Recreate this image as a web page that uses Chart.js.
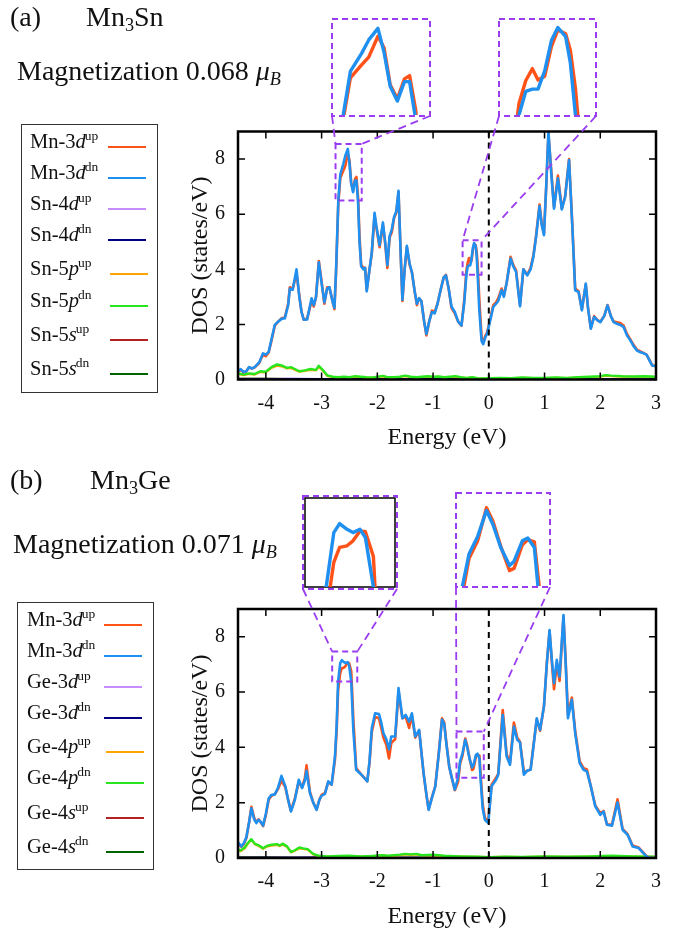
<!DOCTYPE html>
<html><head><meta charset="utf-8">
<script src="https://cdn.jsdelivr.net/npm/chart.js@4.4.1/dist/chart.umd.min.js"></script>
<style>
html,body{margin:0;padding:0;background:#fff;}
body{width:689px;height:931px;position:relative;overflow:hidden;font-family:"Liberation Serif","DejaVu Serif",serif;color:#111;}
canvas{position:absolute;}
.t{position:absolute;white-space:nowrap;line-height:1;}
.t sub{font-size:0.65em;vertical-align:0;position:relative;top:0.3em;}
.legend{position:absolute;border:1.4px solid #333;box-sizing:border-box;}
.row{position:absolute;font-size:20.5px;line-height:1;white-space:nowrap;}
.row sup{font-size:13.5px;vertical-align:0;position:relative;top:-8px;margin-left:-1px;}
.ln{position:absolute;height:2px;}
</style></head><body>
<canvas id="cA" width="689" height="460" style="left:0;top:0"></canvas>
<canvas id="cB" width="689" height="460" style="left:0;top:478px"></canvas>
<div class="t" style="left:10px;top:2.5px;font-size:28px">(a)</div>
<div class="t" style="left:86px;top:2.5px;font-size:28px">Mn<sub>3</sub>Sn</div>
<div class="t" style="left:17px;top:56.5px;font-size:28px">Magnetization 0.068 <i>μ</i><sub><i>B</i></sub></div>
<div class="t" style="left:10px;top:465.5px;font-size:28px">(b)</div>
<div class="t" style="left:90px;top:465.5px;font-size:28px">Mn<sub>3</sub>Ge</div>
<div class="t" style="left:13px;top:529.5px;font-size:28px">Magnetization 0.071 <i>μ</i><sub><i>B</i></sub></div>
<script>
// ================= DATA =================
const xTickLabels = [-4,-3,-2,-1,0,1,2,3];
const yTickLabels = [0,2,4,6,8];

// ---- panel (a) Mn3Sn : Mn-3d ----
const energyA = [-4.50,-4.45,-4.40,-4.35,-4.30,-4.25,-4.20,-4.12,-4.05,-4.00,-3.95,-3.90,-3.84,-3.78,-3.72,-3.66,-3.60,-3.57,-3.52,-3.45,-3.40,-3.36,-3.32,-3.26,-3.18,-3.14,-3.10,-3.05,-3.00,-2.95,-2.90,-2.86,-2.80,-2.77,-2.74,-2.70,-2.665,-2.61,-2.575,-2.53,-2.50,-2.47,-2.435,-2.40,-2.375,-2.345,-2.32,-2.29,-2.25,-2.22,-2.19,-2.14,-2.10,-2.05,-2.02,-1.96,-1.90,-1.86,-1.82,-1.78,-1.74,-1.70,-1.66,-1.62,-1.58,-1.55,-1.51,-1.47,-1.42,-1.38,-1.33,-1.29,-1.25,-1.21,-1.16,-1.12,-1.07,-1.02,-0.97,-0.92,-0.87,-0.81,-0.77,-0.72,-0.67,-0.61,-0.55,-0.49,-0.44,-0.402,-0.378,-0.354,-0.334,-0.31,-0.286,-0.263,-0.235,-0.218,-0.20,-0.17,-0.13,-0.10,-0.06,-0.03,0.02,0.08,0.13,0.17,0.23,0.27,0.32,0.39,0.44,0.49,0.56,0.62,0.69,0.75,0.80,0.85,0.91,0.95,0.99,1.03,1.07,1.12,1.17,1.24,1.31,1.37,1.44,1.50,1.55,1.61,1.67,1.74,1.78,1.83,1.89,1.95,2.00,2.07,2.13,2.19,2.24,2.30,2.36,2.42,2.48,2.54,2.60,2.66,2.72,2.78,2.83,2.88,2.93,3.00];
const mn3dDnA = [0.30,0.38,0.27,0.30,0.45,0.40,0.45,0.62,0.95,0.90,1.00,1.45,1.98,2.10,2.20,2.22,2.70,3.30,3.25,4.00,3.00,2.45,2.17,2.18,2.95,2.70,3.00,4.25,3.50,2.80,3.30,3.35,2.80,2.60,4.00,6.50,7.44,7.83,8.12,8.37,7.85,7.12,6.80,7.22,7.22,6.40,5.00,4.10,4.00,4.05,3.20,4.00,4.60,6.05,5.60,4.87,5.70,5.00,4.15,5.20,5.45,5.90,6.10,6.85,4.50,2.90,4.00,4.85,4.20,3.90,3.20,2.75,2.95,2.85,2.10,1.65,2.10,2.45,2.40,2.75,3.20,3.70,3.78,3.30,2.65,2.45,2.10,1.96,2.80,3.80,4.11,4.14,4.14,4.38,4.78,4.95,4.83,4.48,3.80,2.50,1.40,1.28,1.55,1.66,2.10,2.63,2.75,2.85,3.24,3.00,3.50,4.39,4.10,3.90,2.65,4.00,3.78,4.00,4.45,5.20,6.29,5.60,5.24,7.00,9.00,7.50,6.20,7.30,6.17,6.63,7.96,5.50,3.24,3.18,2.51,3.48,2.60,1.84,2.27,2.15,2.08,2.30,2.69,2.30,2.08,2.02,1.98,1.90,1.60,1.42,1.20,1.05,0.99,0.95,0.90,0.70,0.51,0.48];
const mn3dUpA = [0.28,0.35,0.26,0.30,0.44,0.40,0.44,0.60,0.92,0.85,0.98,1.40,1.95,2.10,2.22,2.25,2.75,3.35,3.28,3.85,3.05,2.45,2.17,2.20,2.85,2.65,3.00,4.30,3.55,2.75,3.35,3.35,2.80,2.55,3.90,6.40,7.30,7.58,7.75,8.20,7.95,7.15,6.85,7.28,7.35,6.60,5.20,4.15,4.05,4.05,3.25,4.00,4.55,5.95,5.55,4.80,5.60,4.95,4.05,5.15,5.35,5.85,6.05,6.80,4.50,2.85,4.00,4.80,4.15,3.90,3.20,2.70,2.95,2.85,2.10,1.60,2.10,2.50,2.45,2.75,3.20,3.70,3.80,3.30,2.60,2.40,2.10,1.95,2.90,3.95,4.25,4.41,4.26,4.31,4.70,4.92,4.87,4.65,4.15,2.90,1.55,1.35,1.60,1.70,2.15,2.70,2.80,2.95,3.30,3.05,3.50,4.45,4.15,3.95,2.70,4.00,3.80,4.05,4.50,5.25,6.35,5.65,5.30,7.00,8.90,7.60,6.25,7.40,6.20,6.65,8.00,5.55,3.30,3.20,2.55,3.45,2.60,1.88,2.30,2.15,2.10,2.30,2.70,2.30,2.10,2.08,2.05,1.95,1.65,1.45,1.25,1.08,1.02,0.96,0.90,0.72,0.52,0.48];
// Sn-5p
const energyPA = [-4.5,-4.4,-4.3,-4.2,-4.1,-4.0,-3.9,-3.8,-3.7,-3.62,-3.55,-3.48,-3.4,-3.3,-3.2,-3.1,-3.05,-2.98,-2.9,-2.8,-2.7,-2.6,-2.5,-2.4,-2.3,-2.2,-2.1,-2.0,-1.9,-1.8,-1.7,-1.6,-1.5,-1.4,-1.3,-1.2,-1.1,-1.0,-0.9,-0.8,-0.7,-0.6,-0.5,-0.4,-0.3,-0.2,-0.1,0.0,0.2,0.4,0.6,0.8,1.0,1.2,1.4,1.6,1.8,2.0,2.1,2.2,2.4,2.6,2.8,3.0];
const sn5pDnA = [0.22,0.18,0.22,0.20,0.30,0.28,0.45,0.55,0.50,0.42,0.45,0.38,0.30,0.33,0.38,0.35,0.50,0.35,0.15,0.10,0.08,0.10,0.08,0.12,0.10,0.08,0.07,0.10,0.13,0.08,0.08,0.10,0.14,0.10,0.08,0.10,0.12,0.10,0.11,0.08,0.10,0.12,0.08,0.06,0.08,0.05,0.04,0.05,0.06,0.05,0.07,0.06,0.06,0.07,0.06,0.08,0.10,0.12,0.16,0.14,0.12,0.11,0.12,0.10];
const sn5pUpA = [0.20,0.16,0.20,0.18,0.27,0.26,0.42,0.50,0.47,0.40,0.42,0.35,0.28,0.31,0.35,0.33,0.46,0.33,0.13,0.09,0.07,0.09,0.07,0.10,0.09,0.07,0.06,0.09,0.11,0.07,0.07,0.09,0.12,0.09,0.07,0.09,0.10,0.09,0.10,0.07,0.09,0.10,0.07,0.05,0.07,0.04,0.03,0.04,0.05,0.04,0.06,0.05,0.05,0.06,0.05,0.07,0.09,0.10,0.14,0.12,0.10,0.10,0.10,0.09];
// minor channels
const energyMinor = [-4.5,-4.0,-3.5,-3.0,-2.5,-2.0,-1.5,-1.0,-0.5,0.0,0.5,1.0,1.5,2.0,2.5,3.0];
const sn4dUpA = [0.01,0.01,0.04,0.02,0.01,0.01,0.01,0.01,0.01,0.01,0.01,0.01,0.01,0.01,0.01,0.01];
const sn4dDnA = [0.01,0.01,0.02,0.02,0.03,0.01,0.01,0.02,0.01,0.01,0.01,0.01,0.01,0.01,0.01,0.01];
const sn5sUpA = [0.03,0.03,0.02,0.02,0.01,0.01,0.01,0.01,0.01,0.01,0.01,0.01,0.01,0.01,0.01,0.01];
const sn5sDnA = [0.03,0.03,0.02,0.02,0.01,0.01,0.01,0.01,0.01,0.01,0.01,0.01,0.01,0.01,0.01,0.01];

// ---- panel (b) Mn3Ge : Mn-3d ----
const energyB = [-4.50,-4.44,-4.39,-4.35,-4.30,-4.26,-4.21,-4.17,-4.13,-4.09,-4.05,-4.00,-3.95,-3.90,-3.84,-3.78,-3.72,-3.65,-3.60,-3.55,-3.48,-3.41,-3.35,-3.30,-3.27,-3.21,-3.15,-3.09,-3.04,-3.00,-2.94,-2.88,-2.82,-2.76,-2.73,-2.704,-2.666,-2.637,-2.60,-2.57,-2.535,-2.508,-2.468,-2.43,-2.38,-2.28,-2.18,-2.14,-2.10,-2.04,-1.97,-1.93,-1.89,-1.84,-1.79,-1.75,-1.68,-1.62,-1.55,-1.49,-1.43,-1.38,-1.32,-1.25,-1.17,-1.12,-1.08,-1.02,-0.96,-0.89,-0.84,-0.80,-0.76,-0.71,-0.67,-0.61,-0.551,-0.516,-0.47,-0.423,-0.389,-0.347,-0.30,-0.276,-0.232,-0.203,-0.168,-0.149,-0.11,-0.07,-0.01,0.05,0.13,0.17,0.25,0.32,0.38,0.45,0.51,0.56,0.63,0.69,0.75,0.80,0.86,0.92,0.99,1.04,1.09,1.13,1.17,1.22,1.27,1.34,1.38,1.42,1.49,1.55,1.63,1.70,1.76,1.83,1.91,2.00,2.06,2.12,2.21,2.31,2.40,2.49,2.58,2.69,2.76,2.84,2.90,3.00];
const mn3dDnB = [0.57,0.42,0.55,0.75,1.30,1.80,1.40,1.26,1.38,1.30,1.17,1.60,2.15,2.28,2.30,2.55,2.97,2.59,2.10,1.68,2.10,2.83,2.53,2.80,3.15,2.35,2.00,1.74,2.10,2.25,2.32,2.77,2.65,3.67,4.80,6.38,7.04,7.15,7.08,7.04,7.08,6.98,6.38,4.60,3.19,3.00,2.77,3.50,4.69,5.23,5.20,4.90,4.51,4.30,3.93,4.39,4.39,6.14,5.05,5.17,4.93,5.23,4.39,4.63,3.07,2.30,1.74,2.17,2.59,3.91,5.00,4.85,4.10,3.30,2.95,2.47,2.90,3.48,3.80,4.27,4.02,3.60,3.27,3.35,3.72,3.77,3.60,2.90,1.80,1.38,1.26,2.59,2.83,3.01,5.17,3.67,3.37,4.75,4.27,4.18,3.01,3.16,3.19,4.00,5.05,4.63,5.48,7.00,8.24,7.20,6.32,7.16,6.56,8.78,7.00,5.05,5.72,4.51,3.43,3.19,3.13,2.59,1.87,1.56,1.68,1.20,1.17,2.01,1.02,0.84,0.42,0.36,0.20,0.04,0.00,0.00];
const mn3dUpB = [0.52,0.40,0.52,0.72,1.30,1.85,1.45,1.30,1.40,1.28,1.15,1.55,2.10,2.25,2.30,2.50,2.80,2.55,2.10,1.70,2.15,2.75,2.55,2.90,3.35,2.40,2.00,1.76,2.10,2.28,2.35,2.75,2.65,3.55,4.60,6.05,6.68,6.86,6.88,6.94,7.06,7.05,6.75,5.00,3.25,3.00,2.78,3.45,4.55,5.10,5.05,4.70,4.35,4.10,3.60,4.15,4.30,6.00,5.05,5.10,4.70,5.15,4.35,4.60,3.05,2.30,1.76,2.20,2.60,3.95,5.05,4.90,4.15,3.30,2.95,2.45,2.75,3.40,3.72,4.32,4.08,3.62,3.18,3.22,3.65,3.74,3.70,3.10,1.95,1.45,1.35,2.65,2.90,3.05,5.35,3.75,3.45,4.90,4.35,4.20,3.10,3.15,3.20,4.05,5.00,4.60,5.50,7.00,8.20,7.10,6.10,7.00,6.40,8.70,7.10,5.20,5.80,4.60,3.50,3.25,3.20,2.60,1.90,1.62,1.70,1.22,1.20,2.12,1.05,0.86,0.45,0.38,0.22,0.05,0.00,0.00];
// Ge-4p
const energyPB = [-4.5,-4.45,-4.38,-4.32,-4.26,-4.2,-4.12,-4.05,-3.97,-3.9,-3.8,-3.75,-3.7,-3.62,-3.55,-3.48,-3.4,-3.33,-3.25,-3.15,-3.05,-2.9,-2.7,-2.5,-2.3,-2.1,-1.9,-1.8,-1.6,-1.5,-1.4,-1.3,-1.2,-1.0,-0.8,-0.5,-0.2,0.0,0.3,0.6,1.0,1.4,1.8,2.2,2.6,3.0];
const ge4pDnB = [0.30,0.28,0.38,0.55,0.68,0.52,0.45,0.35,0.45,0.48,0.50,0.45,0.52,0.42,0.22,0.28,0.38,0.35,0.32,0.15,0.08,0.06,0.07,0.08,0.06,0.07,0.10,0.08,0.12,0.15,0.13,0.15,0.10,0.12,0.08,0.06,0.05,0.03,0.05,0.04,0.06,0.05,0.06,0.08,0.06,0.05];
const ge4pUpB = [0.27,0.25,0.35,0.52,0.66,0.50,0.42,0.33,0.42,0.45,0.47,0.43,0.49,0.40,0.20,0.26,0.35,0.33,0.30,0.13,0.07,0.05,0.06,0.07,0.05,0.06,0.09,0.07,0.10,0.13,0.11,0.13,0.09,0.10,0.07,0.05,0.04,0.03,0.04,0.03,0.05,0.04,0.05,0.07,0.05,0.04];
const ge3dUpB = [0.01,0.01,0.02,0.02,0.01,0.01,0.01,0.01,0.01,0.01,0.01,0.01,0.01,0.01,0.01,0.01];
const ge3dDnB = [0.01,0.01,0.01,0.02,0.02,0.01,0.01,0.01,0.01,0.01,0.01,0.01,0.01,0.02,0.03,0.02];
const ge4sUpB = [0.03,0.03,0.02,0.02,0.01,0.01,0.01,0.01,0.01,0.01,0.01,0.01,0.01,0.01,0.01,0.01];
const ge4sDnB = [0.03,0.03,0.02,0.02,0.01,0.01,0.01,0.01,0.01,0.01,0.01,0.01,0.01,0.01,0.01,0.01];

// zoom windows (energy range, DOS range)
const zoomA1 = {e:[-2.75,-2.28], d:[6.5,8.55]};
const zoomA2 = {e:[-0.47,-0.13], d:[3.8,5.05]};
const zoomB1 = {e:[-2.81,-2.36], d:[6.38,7.46]};
const zoomB2 = {e:[-0.58,-0.09], d:[2.9,4.57]};

// legend labels
const legendSpeciesA = ['Mn-3','Mn-3','Sn-4','Sn-4','Sn-5','Sn-5','Sn-5','Sn-5'];
const legendSpeciesB = ['Mn-3','Mn-3','Ge-3','Ge-3','Ge-4','Ge-4','Ge-4','Ge-4'];
const legendOrbital = ['d','d','d','d','p','p','s','s'];
const legendSpin = ['up','dn','up','dn','up','dn','up','dn'];

// ================= STYLE =================
const FONT = "'Liberation Serif', 'DejaVu Serif', serif";
const C_UP = '#ff5218', C_DN = '#1f8ff0', C_DUP = '#c78cff', C_DDN = '#000080',
      C_PUP = '#ffa500', C_PDN = '#27e61e', C_SUP = '#b22222', C_SDN = '#006400';
const PURPLE = '#9a3cf0';
const legendColors = [C_UP,C_DN,C_DUP,C_DDN,C_PUP,C_PDN,C_SUP,C_SDN];
Chart.defaults.font.family = FONT;
Chart.defaults.color = '#111';

const pts = (xs, ys) => xs.map((x,i)=>({x:x, y:ys[i]}));

const decor = {
  id:'decor',
  afterDatasetsDraw(chart, args, o) {
    const {ctx, chartArea:a, scales:{x, y}} = chart;
    const off = o.top;
    ctx.save();
    ctx.strokeStyle='#000'; ctx.lineWidth=2; ctx.setLineDash([6,5]);
    const x0 = x.getPixelForValue(0);
    ctx.beginPath(); ctx.moveTo(x0,a.bottom); ctx.lineTo(x0,a.top); ctx.stroke();
    ctx.setLineDash([]); ctx.lineWidth=1.5;
    ctx.beginPath();
    x.ticks.forEach(t=>{const p=x.getPixelForValue(t.value); ctx.moveTo(p,a.bottom); ctx.lineTo(p,a.bottom-7); ctx.moveTo(p,a.top); ctx.lineTo(p,a.top+7);});
    y.ticks.forEach(t=>{const p=y.getPixelForValue(t.value); ctx.moveTo(a.left,p); ctx.lineTo(a.left+7,p); ctx.moveTo(a.right,p); ctx.lineTo(a.right-7,p);});
    ctx.stroke();
    ctx.lineWidth=2.5; ctx.strokeRect(a.left,a.top,a.right-a.left,a.bottom-a.top);
    o.boxes.forEach(b=>{
      const l=x.getPixelForValue(b.z.e[0]), r=x.getPixelForValue(b.z.e[1]);
      const t=y.getPixelForValue(b.z.d[1]), bt=y.getPixelForValue(b.z.d[0]);
      const il=b.inset[0], it=b.inset[1]-off, ir=b.inset[2], ib=b.inset[3]-off;
      ctx.strokeStyle=PURPLE; ctx.lineWidth=2; ctx.setLineDash([6,4]);
      ctx.strokeRect(l,t,r-l,bt-t);
      if (b.black) {
        ctx.setLineDash([]); ctx.strokeStyle='#000'; ctx.lineWidth=1.5;
        ctx.strokeRect(il+2,it+2,ir-il-4,ib-it-4);
        ctx.strokeStyle=PURPLE; ctx.lineWidth=2; ctx.setLineDash([6,4]);
      }
      ctx.strokeRect(il,it,ir-il,ib-it);
      ctx.lineWidth=1.8; ctx.setLineDash([8,5]);
      ctx.beginPath(); ctx.moveTo(il,ib); ctx.lineTo(l,t); ctx.moveTo(ir,ib); ctx.lineTo(r,t); ctx.stroke();
    });
    ctx.restore();
  }
};

function makeMain(id, s, lay, top, boxes) {
  const ds = (label, xs, ys, color, w, order) => ({label, data: pts(xs, ys), borderColor: color, borderWidth: w, order, borderJoinStyle:'round'});
  new Chart(document.getElementById(id), {
    type:'line',
    data:{datasets:[
      ds('up', s.e, s.up, C_UP, 2.6, 1),
      ds('dn', s.e, s.dn, C_DN, 2.6, 0),
      ds('dup', energyMinor, s.dUp, C_DUP, 2, 5),
      ds('ddn', energyMinor, s.dDn, C_DDN, 2, 4),
      ds('pup', s.ep, s.pUp, C_PUP, 2.2, 3),
      ds('pdn', s.ep, s.pDn, C_PDN, 2.4, 2),
      ds('sup', energyMinor, s.sUp, C_SUP, 2, 7),
      ds('sdn', energyMinor, s.sDn, C_SDN, 2, 6)
    ]},
    options:{
      responsive:false, animation:false, events:[],
      layout:{padding:{left:180, top:lay.top, right:33, bottom:0}},
      elements:{point:{radius:0}, line:{tension:0}},
      plugins:{legend:{display:false}, tooltip:{enabled:false}, decor:{top, boxes}},
      scales:{
        x:{type:'linear', min:-4.5, max:3,
           afterBuildTicks: sc => { sc.ticks = xTickLabels.map(v=>({value:v})); },
           afterFit: sc => { sc.height = lay.xh; },
           grid:{display:false, drawTicks:false}, border:{display:false},
           ticks:{font:{size:20}, color:'#111', padding:12, maxRotation:0, autoSkip:false},
           title:{display:true, text:'Energy (eV)', font:{size:24}, color:'#111', padding:{top:0,bottom:lay.tb}}},
        y:{type:'linear', min:0, max:9,
           afterBuildTicks: sc => { sc.ticks = yTickLabels.map(v=>({value:v})); },
           afterFit: sc => { sc.width = 58; },
           grid:{display:false, drawTicks:false}, border:{display:false},
           ticks:{font:{size:20}, color:'#111', padding:13, autoSkip:false},
           title:{display:true, text:'DOS (states/eV)', font:{size:24}, color:'#111', padding:{top:6,bottom:0}}}
      }
    },
    plugins:[decor]
  });
}

function makeInset(left, top, w, h, z, e, up, dn) {
  const c = document.createElement('canvas');
  c.width=w; c.height=h;
  c.style.left=left+'px'; c.style.top=top+'px'; c.style.width=w+'px'; c.style.height=h+'px'; c.style.zIndex=3;
  document.body.appendChild(c);
  new Chart(c, {type:'line',
    data:{datasets:[
      {data:pts(e,dn), borderColor:C_DN, borderWidth:3.4, order:0, borderJoinStyle:'round'},
      {data:pts(e,up), borderColor:C_UP, borderWidth:3.4, order:1, borderJoinStyle:'round'}]},
    options:{responsive:false, animation:false, events:[], layout:{padding:0},
      plugins:{legend:{display:false}, tooltip:{enabled:false}},
      elements:{point:{radius:0}, line:{tension:0}},
      scales:{x:{type:'linear', display:false, min:z.e[0], max:z.e[1]}, y:{type:'linear', display:false, min:z.d[0], max:z.d[1]}}}});
}

function buildLegend(box, species, rows, textX, lineX) {
  const d = document.createElement('div'); d.className='legend';
  Object.assign(d.style,{left:box[0]+'px',top:box[1]+'px',width:box[2]+'px',height:box[3]+'px'});
  document.body.appendChild(d);
  species.forEach((s,i)=>{
    const r=document.createElement('div'); r.className='row';
    r.style.left=textX+'px'; r.style.top=(rows[i]+1-17.2)+'px';
    r.innerHTML = s + '<i>'+legendOrbital[i]+'</i><sup>'+legendSpin[i]+'</sup>';
    document.body.appendChild(r);
    const lx = lineX[i>3?1:0];
    const l=document.createElement('div'); l.className='ln';
    l.style.left=lx[0]+'px'; l.style.width=(lx[1]-lx[0])+'px'; l.style.top=(rows[i]-1)+'px'; l.style.background=legendColors[i];
    document.body.appendChild(l);
  });
}

// ---- panel a ----
makeMain('cA', {e:energyA, up:mn3dUpA, dn:mn3dDnA, ep:energyPA, pUp:sn5pUpA, pDn:sn5pDnA, dUp:sn4dUpA, dDn:sn4dDnA, sUp:sn5sUpA, sDn:sn5sDnA},
  {top:131.5, xh:80.5, tb:8}, 0,
  [{z:zoomA1, inset:[332,19,430,116]}, {z:zoomA2, inset:[499,19,596,116]}]);
makeInset(333,20,96,95, zoomA1, energyA, mn3dUpA, mn3dDnA);
makeInset(500,20,95,95, zoomA2, energyA, mn3dUpA, mn3dDnA);
buildLegend([21,124,137,269], legendSpeciesA, [147,178,209,240,274,306,340,374], 30, [[108,146],[110,148]]);

// ---- panel b ----
makeMain('cB', {e:energyB, up:mn3dUpB, dn:mn3dDnB, ep:energyPB, pUp:ge4pUpB, pDn:ge4pDnB, dUp:ge3dUpB, dDn:ge3dDnB, sUp:ge4sUpB, sDn:ge4sDnB},
  {top:131, xh:80, tb:7}, 478,
  [{z:zoomB1, inset:[303,496,397,589], black:true}, {z:zoomB2, inset:[456,493,550,587]}]);
makeInset(305,498,90,89, zoomB1, energyB, mn3dUpB, mn3dDnB);
makeInset(457,494,92,92, zoomB2, energyB, mn3dUpB, mn3dDnB);
buildLegend([17,602,137,268], legendSpeciesB, [625,656,687,718,752,783,818,852], 27, [[104,142],[106,144]]);
</script>
</body></html>
